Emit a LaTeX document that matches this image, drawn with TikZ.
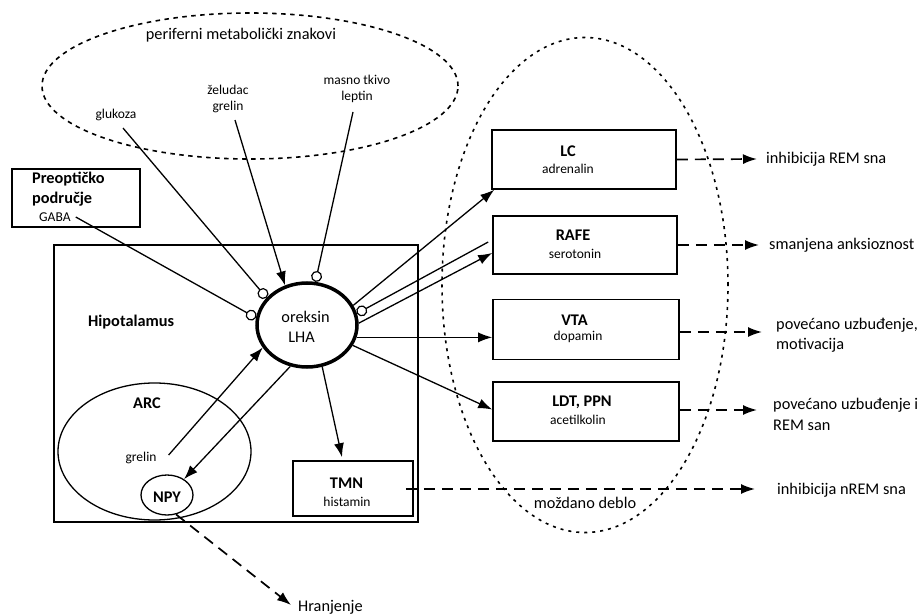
\documentclass[tikz,border=0pt]{standalone}
\usepackage{fontspec}
\setmainfont{Carlito}
\usetikzlibrary{arrows.meta,shapes.geometric}
\begin{document}
\begin{tikzpicture}[x=1pt,y=-1pt,
  big/.style={font=\fontsize{16.3}{19.5}\selectfont, inner sep=0pt},
  bigb/.style={font=\fontsize{16.3}{19.5}\selectfont\bfseries, inner sep=0pt},
  small/.style={font=\fontsize{13.5}{17.5}\selectfont, inner sep=0pt},
  box/.style={draw, line width=1.6pt, inner sep=0pt},
  ar/.style={line width=1.3pt, -{Latex[length=14pt,width=10pt]}},
  inh/.style={line width=1.3pt, -{Circle[length=11pt,width=11pt,fill=white,line width=1.2pt]}},
  dsh/.style={line width=1.7pt, dash pattern=on 11pt off 7pt, -{Latex[length=14pt,width=10pt]}},
]
\useasboundingbox (0,0) rectangle (921,615);

% dashed/dotted groupings
\node[draw, ellipse, line width=1.6pt, dash pattern=on 4.5pt off 4.5pt,
      minimum width=416pt, minimum height=146pt, inner sep=0pt] (per) at (250,86) {};
\node[draw, ellipse, line width=1.6pt, dash pattern=on 3pt off 5pt,
      minimum width=286pt, minimum height=495pt, inner sep=0pt] (bs) at (585,285) {};

% hypothalamus frame
\node[box, minimum width=364pt, minimum height=277pt] (hyp) at (236,383.5) {};
\node[bigb, anchor=west] (hyptxt) at (88,322) {Hipotalamus};

% preoptic box
\node[box, minimum width=128pt, minimum height=58pt] (poa) at (76,198) {};
\node[bigb, anchor=west] (poa1) at (32,179) {Preoptičko};
\node[bigb, anchor=west] (poa2) at (32,199) {područje};
\node[small, anchor=west] (gaba) at (39,217) {GABA};

% peripheral labels
\node[big] (pertxt) at (241,35) {periferni metabolički znakovi};
\node[small] (gluk) at (116,115) {glukoza};
\node[small] (zel1) at (228,90) {želudac};
\node[small] (zel2) at (228,107) {grelin};
\node[small] (mas1) at (357,80) {masno tkivo};
\node[small] (mas2) at (357,97) {leptin};

% LHA
\node[draw, ellipse, line width=3.5pt, minimum width=100pt, minimum height=84pt, inner sep=0pt] (lha) at (307,325) {};
\node[big] (ork) at (305.5,317) {oreksin};
\node[big] (lhat) at (301.5,337) {LHA};

% ARC and NPY
\node[draw, ellipse, line width=1.3pt, minimum width=193pt, minimum height=137pt, inner sep=0pt] (arc) at (154.5,451.5) {};
\node[bigb] (arctxt) at (147,403) {ARC};
\node[small] (grel) at (141,458) {grelin};
\node[draw, ellipse, line width=1.3pt, minimum width=52pt, minimum height=40pt, inner sep=0pt] (npy) at (167,495) {};
\node[bigb] (npytxt) at (167,497) {NPY};

% TMN
\node[box, minimum width=120pt, minimum height=55pt] (tmn) at (353,488.5) {};
\node[bigb] (tmn1) at (346.5,483) {TMN};
\node[small] (tmn2) at (347,502) {histamin};

% brainstem boxes
\node[box, minimum width=184pt, minimum height=59pt] (lc) at (584,159.5) {};
\node[bigb] (lc1) at (568,151) {LC};
\node[small] (lc2) at (568,169) {adrenalin};
\node[box, minimum width=184pt, minimum height=58pt] (rafe) at (585,245) {};
\node[bigb] (rafe1) at (573,235) {RAFE};
\node[small] (rafe2) at (575,254) {serotonin};
\node[box, minimum width=186pt, minimum height=60pt] (vta) at (586,329.5) {};
\node[bigb] (vta1) at (574.5,320) {VTA};
\node[small] (vta2) at (578,337) {dopamin};
\node[box, minimum width=186pt, minimum height=59pt] (ldt) at (586,411.5) {};
\node[bigb] (ldt1) at (582,402) {LDT, PPN};
\node[small] (ldt2) at (578,420) {acetilkolin};
\node[big] (mozd) at (585,503) {moždano deblo};

% effect labels
\node[big, anchor=west] (ef1) at (766,159) {inhibicija REM sna};
\node[big, anchor=west] (ef2) at (769,245) {smanjena anksioznost};
\node[big, anchor=west] (ef3a) at (776,325) {povećano uzbuđenje,};
\node[big, anchor=west] (ef3b) at (776,345) {motivacija};
\node[big, anchor=west] (ef4a) at (773,405) {povećano uzbuđenje i};
\node[big, anchor=west] (ef4b) at (773,425) {REM san};
\node[big, anchor=west] (ef5) at (777,490) {inhibicija nREM sna};
\node[big, anchor=west] (hran) at (298,607) {Hranjenje};

% arrow end coordinates
\coordinate (e1) at (757,159);
\coordinate (e2) at (759,245);
\coordinate (e3) at (762,332);
\coordinate (e4) at (757,410);
\coordinate (e5) at (755,489);

% inputs to LHA
\draw[inh] ([xshift=7pt,yshift=-7pt]gluk.south) -- (lha.146);
\draw[inh] ([xshift=5pt]gaba.east) -- (lha.172);
\draw[ar] ([xshift=7pt,yshift=-7pt]zel2.south) -- (lha.119);
\draw[inh] ([xshift=-4pt,yshift=-9pt]mas2.south) -- (lha.79);

% LHA outputs to brainstem
\draw[ar] (lha.23) -- ([xshift=3pt]lc.south west);
\draw[inh] ([xshift=-4pt,yshift=3pt]rafe.west) -- (lha.13);
\draw[ar] (lha.2) -- ([yshift=-8pt]rafe.west);
\draw[ar] (lha.-14) -- (lha.-14 -| vta.west);
\draw[ar] (lha.-24) -- ([yshift=2pt]ldt.west);

% LHA to TMN, ARC, NPY
\draw[ar] (lha.-70) -- ([xshift=-11pt,yshift=3pt]tmn.north);
\draw[ar] ([xshift=12pt,yshift=3pt]grel.east) -- (lha.207);
\draw[ar] (lha.248) -- (npy.43);

% dashed effects
\draw[dsh] (lc.east) -- (e1);
\draw[dsh] (rafe.east) -- (e2);
\draw[dsh] (vta.east |- e3) -- (e3);
\draw[dsh] (ldt.east |- e4) -- (e4);
\draw[dsh] ([xshift=-8pt]tmn.east |- e5) -- (e5);
\draw[dsh] (npy.-65) -- ([xshift=-7pt,yshift=2pt]hran.west);
\end{tikzpicture}
\end{document}
